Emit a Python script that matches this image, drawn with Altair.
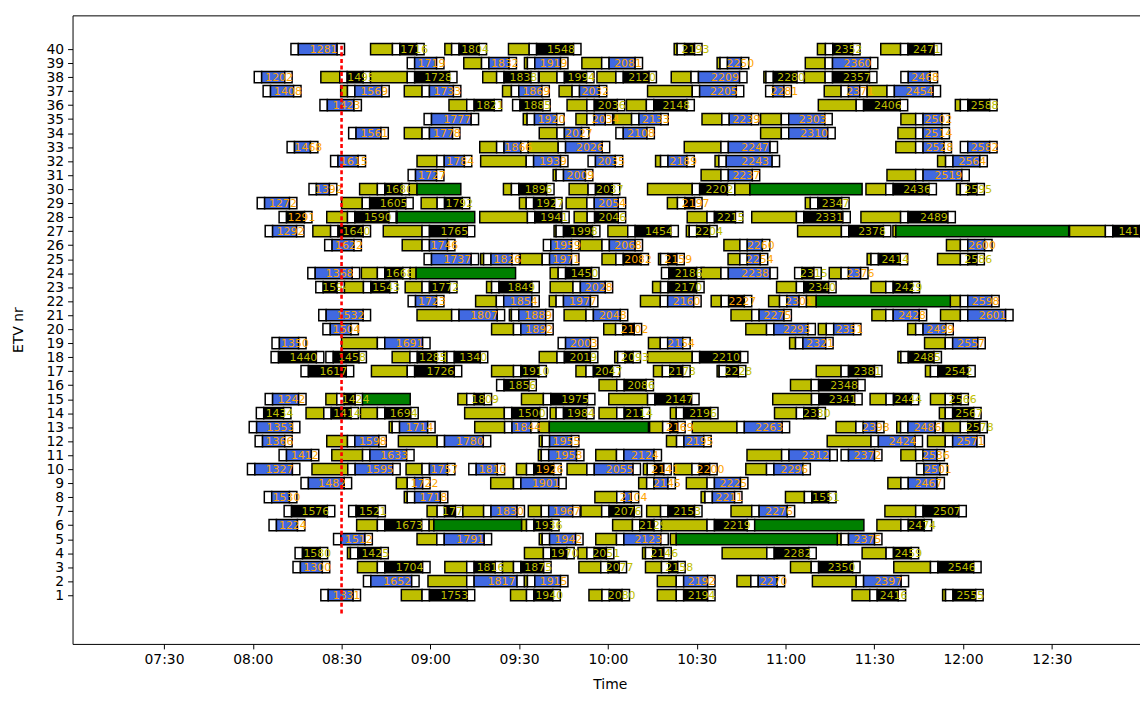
import altair as alt
import pandas as pd

# Times are minutes after midnight. Each block: (label, start, olive_minutes, end, kind)
# kind: 'b' = blue trip (orange label), 'k' = black trip (olive label), 'ko' = black trip (orange label)
row40 = [(1281,492.9,0,511.0,'b'),(1716,519.8,7.4,537.9,'k'),(1804,544.9,2.3,559.0,'k'),(1548,566.4,7.0,590.9,'k'),(2193,622.4,1.0,631.8,'k'),(2352,670.8,2.7,685.2,'k'),(2471,692.2,6.7,712.7,'k')]
row39 = [(1719,532.2,0,544.6,'b'),(1832,551.3,6.0,569.1,'b'),(1919,571.8,1.0,586.5,'b'),(2081,591.2,6.7,611.7,'b'),(2250,636.9,1.0,647.6,'b'),(2360,666.7,6.7,691.2,'b')]
row38 = [(1202,480.5,0,493.3,'b'),(1495,503.0,6.4,519.8,'k'),(1728,519.8,12.4,549.0,'k'),(1838,557.7,4.7,576.5,'k'),(1994,576.8,6.0,595.3,'k'),(2120,596.3,6.4,616.4,'k'),(2209,621.4,6.7,647.0,'b'),(2280,652.7,0.7,666.4,'k'),(2357,666.4,7.0,690.9,'k'),(2468,699.0,0,711.4,'b')]
row37 = [(1408,483.5,0,496.3,'b'),(1569,509.7,2.3,526.1,'b'),(1733,531.2,6.0,550.3,'b'),(1869,564.4,3.0,580.2,'b'),(2032,583.5,4.4,599.6,'b'),(2205,613.4,15.1,645.9,'b'),(2281,653.3,0,662.0,'b'),(2371,673.1,5.7,687.6,'b'),(2454,687.6,6.7,712.4,'b')]
row36 = [(1423,502.7,0,516.7,'b'),(1821,546.3,6.0,564.1,'k'),(1885,567.8,0,580.5,'k'),(2036,586.2,6.7,605.7,'k'),(2148,606.3,6.7,629.2,'k'),(2406,671.1,12.8,701.3,'k'),(2588,717.4,1.7,731.5,'k')]
row35 = [(1777,537.9,0,556.3,'b'),(1920,571.4,1.3,585.2,'b'),(2034,589.2,3.7,601.6,'b'),(2133,602.0,6.0,620.4,'b'),(2239,631.8,6.7,651.0,'b'),(2303,651.6,7.0,675.8,'b'),(2502,699.0,5.0,715.4,'b')]
row34 = [(1561,512.4,0,525.8,'b'),(1778,531.2,6.0,550.0,'b'),(2027,576.8,6.0,593.6,'b'),(2108,602.7,0,615.7,'b'),(2310,651.6,7.0,676.8,'b'),(2514,698.0,6.0,715.4,'b')]
row33 = [(1468,491.6,0,502.0,'b'),(1866,556.7,5.7,573.1,'b'),(2026,573.1,10.1,600.6,'b'),(2247,625.8,12.4,657.3,'b'),(2528,697.3,6.7,716.1,'b'),(2582,719.1,0,731.5,'b')]
row32 = [(1615,506.3,0,518.1,'b'),(1784,535.5,6.7,554.0,'b'),(1939,557.0,15.4,586.5,'b'),(2035,593.3,0,605.0,'b'),(2189,616.1,1.7,629.2,'b'),(2243,636.2,1.3,658.0,'b'),(2564,711.4,2.7,728.2,'b')]
row31 = [(1727,532.5,0,544.6,'b'),(2009,581.5,1.0,594.9,'b'),(2237,631.5,6.7,651.3,'b'),(2519,694.3,9.7,722.1,'b')]
row30 = [(1392,499.0,0,508.4,'b'),(1680,516.1,6.0,532.9,'k'),(1896,564.7,2.7,581.8,'k'),(2037,586.9,6.4,604.0,'k'),(2202,613.4,15.1,642.9,'k'),(2436,687.2,6.7,711.0,'k'),(2595,717.8,1.3,727.2,'k')]
row29 = [(1272,481.5,0,494.9,'b'),(1605,510.0,7.0,534.2,'k'),(1792,536.9,5.4,553.3,'k'),(1927,570.1,2.3,584.5,'k'),(2054,585.9,7.0,606.0,'b'),(2197,620.1,3.4,631.8,'ko'),(2347,666.7,1.7,681.5,'k')]
row28 = [(1291,488.9,0,500.0,'ko'),(1590,505.0,7.0,528.5,'k'),(1941,556.7,16.1,586.9,'k'),(2046,588.6,4.4,606.0,'k'),(2215,626.8,6.7,645.6,'k'),(2331,648.6,15.1,681.9,'k'),(2489,685.5,13.4,717.4,'k')]
row27 = [(1292,484.2,0,497.3,'b'),(1640,500.3,6.0,519.8,'k'),(1765,524.1,13.1,555.0,'k'),(1998,581.8,0.7,597.3,'k'),(1454,600.0,6.7,623.8,'k'),(2204,626.5,1.0,636.9,'k'),(2378,664.1,14.8,695.6,'k'),(1417,756.0,12.1,782.3,'k')]
row26 = [(1622,504.3,0,516.7,'b'),(1746,530.5,6.7,548.3,'b'),(1959,578.2,0,590.2,'b'),(2068,590.6,7.4,611.7,'b'),(2260,639.2,5.4,654.7,'b'),(2600,714.4,4.7,729.8,'b')]
row25 = [(1737,537.9,0,556.3,'b'),(1826,557.0,1.0,570.1,'b'),(1971,570.4,7.4,590.2,'b'),(2082,598.0,4.7,613.7,'ko'),(2159,617.1,0.7,625.8,'ko'),(2254,640.6,4.0,654.0,'b'),(2414,687.6,1.3,701.3,'k'),(2586,711.4,7.7,727.2,'k')]
row24 = [(1368,498.6,0,516.1,'b'),(1668,516.7,5.4,533.2,'k'),(1450,580.5,2.7,597.0,'k'),(2186,618.1,0,632.5,'k'),(2238,631.5,6.7,657.3,'b'),(2315,663.1,0,672.1,'k'),(2376,674.8,4.0,687.9,'b')]
row23 = [(1594,501.3,0,511.0,'k'),(1543,511.0,6.4,528.8,'k'),(1772,531.5,5.7,549.0,'k'),(1849,559.0,1.7,576.8,'k'),(2028,580.5,7.7,601.6,'b'),(2170,615.1,2.7,632.5,'k'),(2340,657.0,6.7,677.1,'k'),(2429,688.9,5.0,705.3,'k')]
row22 = [(1723,532.5,0,544.6,'b'),(1854,555.3,7.0,576.8,'b'),(1977,580.2,2.3,596.6,'b'),(2160,611.0,6.7,631.5,'b'),(2227,634.9,3.4,648.6,'ko'),(2301,654.3,3.7,667.1,'b'),(2598,715.7,3.4,732.2,'b')]
row21 = [(1532,502.3,0,519.8,'b'),(1807,535.5,11.7,565.1,'b'),(1889,566.7,0.7,581.5,'b'),(2048,585.2,7.4,606.7,'b'),(2275,641.6,7.0,662.0,'b'),(2428,689.2,4.7,707.7,'b'),(2601,712.4,6.7,736.9,'b')]
row20 = [(1504,503.7,0,515.7,'b'),(1892,560.7,7.4,581.5,'b'),(2102,598.6,4.0,611.4,'ko'),(2293,646.6,7.0,670.1,'b'),(2351,671.1,2.7,685.5,'b'),(2499,701.3,2.7,716.7,'b')]
row19 = [(1350,486.5,0,498.0,'b'),(1691,510.0,12.1,539.9,'b'),(2003,583.2,0,596.6,'b'),(2154,613.7,4.0,627.8,'b'),(2321,661.4,2.0,676.1,'b'),(2557,707.0,7.0,727.5,'b')]
row18 = [(1440,486.2,0,504.0,'k'),(1458,504.7,0,518.4,'k'),(1285,527.1,6.0,544.6,'k'),(1340,544.6,1.0,559.4,'k'),(2019,576.8,6.0,596.6,'k'),(2093,602.3,1.0,611.0,'k'),(2210,613.4,15.1,647.3,'k'),(2485,698.0,1.0,712.7,'k')]
row17 = [(1617,496.3,0,514.1,'k'),(1726,520.1,12.1,550.6,'k'),(1910,560.7,7.4,579.2,'k'),(2047,589.2,3.4,604.0,'k'),(2173,615.4,3.0,627.8,'k'),(2228,636.9,0.7,646.6,'k'),(2381,670.4,8.4,692.6,'k'),(2542,707.3,1.7,724.1,'k')]
row16 = [(1856,562.4,0,575.8,'k'),(2086,597.0,6.0,615.4,'k'),(2348,661.7,7.0,686.9,'k')]
row15 = [(1242,484.2,0,498.0,'b'),(1424,504.7,3.7,517.1,'k'),(1809,549.3,3.0,560.7,'k'),(1975,570.8,7.4,595.6,'k'),(2147,600.3,13.1,630.8,'k'),(2341,655.7,13.1,685.9,'k'),(2444,688.6,5.4,705.0,'k'),(2566,709.0,5.0,721.8,'k')]
row14 = [(1434,481.2,0,492.9,'k'),(1414,498.0,6.0,515.7,'k'),(1694,516.4,5.7,535.9,'k'),(1500,551.6,13.4,579.5,'k'),(1984,580.5,2.0,595.3,'k'),(2114,597.0,6.0,614.1,'k'),(2196,621.1,2.0,637.2,'k'),(2330,656.3,7.4,673.5,'k'),(2567,712.0,2.0,726.1,'k')]
row13 = [(1353,478.8,0,495.9,'b'),(1714,526.1,1.0,541.6,'b'),(1844,555.0,10.1,576.5,'b'),(2169,614.1,4.4,626.1,'ko'),(2263,628.5,15.1,661.4,'b'),(2398,677.1,6.7,693.3,'b'),(2486,697.6,1.3,713.1,'b'),(2578,713.4,5.7,728.2,'k')]
row12 = [(1366,480.8,0,493.3,'b'),(1598,505.0,7.0,525.1,'b'),(1780,529.2,13.1,560.4,'b'),(1955,576.8,1.0,590.2,'b'),(2195,619.8,3.4,634.9,'b'),(2424,674.1,14.8,706.3,'b'),(2571,708.0,6.0,727.2,'b')]
row11 = [(1412,488.9,0,502.3,'b'),(1633,506.7,10.4,534.5,'b'),(1958,576.5,1.0,591.9,'b'),(2124,595.9,7.0,618.1,'b'),(2312,647.0,11.7,677.5,'b'),(2372,678.8,0,692.6,'b'),(2536,699.0,5.0,713.7,'b')]
row10 = [(1327,478.2,0,495.9,'b'),(1595,500.0,12.1,529.8,'b'),(1757,531.8,5.4,548.3,'b'),(1810,553.0,0,565.1,'b'),(1926,569.1,3.4,584.2,'ko'),(2055,586.2,6.7,611.0,'b'),(2141,612.0,1.3,621.4,'ko'),(2200,622.4,6.0,636.9,'ko'),(2296,646.6,7.0,668.4,'b'),(2501,704.3,0,714.7,'b')]
row9 = [(1482,496.3,0,513.4,'b'),(1722,528.5,3.7,539.9,'b'),(1901,560.4,7.7,585.9,'b'),(2145,610.4,2.7,622.8,'b'),(2225,626.5,7.0,647.3,'b'),(2467,694.6,4.4,713.7,'b')]
row8 = [(1530,483.9,0,494.9,'b'),(1718,531.2,1.0,545.9,'b'),(2104,595.6,7.4,610.4,'b'),(2211,631.5,1.3,645.3,'b'),(1551,660.0,6.4,677.1,'k')]
row7 = [(1576,490.6,0,507.7,'k'),(1521,512.4,0,524.8,'k'),(1776,538.9,3.4,551.0,'k'),(1830,551.0,7.0,571.8,'b'),(1967,573.1,4.4,590.6,'b'),(2076,590.9,7.0,611.4,'k'),(2153,613.1,4.7,631.8,'k'),(2276,641.6,7.0,663.1,'b'),(2507,693.6,10.4,721.1,'k')]
row6 = [(1224,485.5,0,497.6,'b'),(1673,515.1,7.0,539.6,'k'),(1936,570.8,1.7,583.5,'k'),(2129,601.6,6.7,618.1,'k'),(2219,618.1,15.4,649.6,'k'),(2474,690.9,8.1,709.4,'k')]
row5 = [(1512,507.3,0,520.4,'b'),(1791,535.5,6.7,560.7,'b'),(1942,576.8,1.0,591.6,'b'),(2123,595.9,7.0,620.4,'b'),(2375,677.5,1.3,692.6,'b')]
row4 = [(1580,494.3,0,505.3,'k'),(1425,512.0,1.0,525.8,'k'),(1970,571.8,6.4,588.6,'k'),(2051,589.9,3.0,602.0,'k'),(2146,611.7,1.0,621.4,'k'),(2282,638.6,15.1,670.4,'k'),(2459,685.9,8.1,705.0,'k')]
row3 = [(1300,493.6,0,506.0,'b'),(1704,515.4,6.7,539.9,'k'),(1816,544.9,7.4,564.4,'k'),(1875,564.4,3.7,580.8,'k'),(2077,590.2,7.4,606.3,'k'),(2158,612.7,5.4,626.1,'k'),(2350,661.7,7.0,685.2,'k'),(2546,696.6,12.4,726.1,'k')]
row2 = [(1652,517.4,0,536.2,'b'),(1817,539.2,13.1,571.8,'b'),(1915,571.8,1.0,586.5,'b'),(2192,616.7,6.4,636.2,'b'),(2270,643.6,4.7,659.7,'b'),(2397,669.1,14.8,701.6,'b')]
row1 = [(1331,503.0,0,516.4,'b'),(1753,530.2,7.0,555.0,'k'),(1940,567.1,5.4,583.9,'k'),(2080,593.6,4.4,607.3,'k'),(2194,616.7,6.4,636.2,'k'),(2416,682.5,6.0,700.6,'k'),(2555,713.1,1.0,726.8,'k')]

# Long green waits: (row, olive_start, green_start, green_end)
green_waits = [(30,532.9,535.5,550.3),(30,642.9,648.0,685.9),(28,528.5,528.8,555.0),(27,696.3,697.3,755.7),
               (24,533.2,535.2,568.8),(22,667.1,670.4,715.7),(15,517.1,517.1,533.2),(13,576.8,580.2,613.7),
               (6,539.6,541.2,570.8),(6,649.6,649.6,686.5),(5,621.1,623.1,677.5)]

marker_time = 510          # 08:30 red dotted marker
marker_span = (-0.3, 40.4)
x_ticks = [450, 480, 510, 540, 570, 600, 630, 660, 690, 720, 750]
y_ticks = list(range(1, 41))

all_rows = [row1,row2,row3,row4,row5,row6,row7,row8,row9,row10,row11,row12,row13,row14,row15,row16,row17,row18,row19,row20,
            row21,row22,row23,row24,row25,row26,row27,row28,row29,row30,row31,row32,row33,row34,row35,row36,row37,row38,row39,row40]

OLIVE, WHITE, BLUE, BLACK, GREEN, ORANGE = '#bfbf00', '#ffffff', '#4169e1', '#000000', '#008000', '#ffa500'
W = 2.5
H = 0.4

segs, labs = [], []
for i, blocks in enumerate(all_rows):
    r = i + 1
    for lab, s, ol, e, kind in blocks:
        a = s + ol
        if ol > 0:
            segs.append((r, s, a, OLIVE))
        segs.append((r, a, a + W, WHITE))
        c1 = a + W
        c2 = max(e - W, c1)
        if c2 > c1:
            segs.append((r, c1, c2, BLUE if kind == 'b' else BLACK))
        segs.append((r, c2, max(e, c2 + 0.5), WHITE))
        labs.append((r, (a + e) / 2 + 2, str(lab), ORANGE if kind in ('b', 'ko') else OLIVE))
for r, os_, gs, ge in green_waits:
    if gs > os_:
        segs.append((r, os_, gs, OLIVE))
    segs.append((r, gs, ge, GREEN))

seg_df = pd.DataFrame(segs, columns=['row', 'x', 'x2', 'fill'])
seg_df['y0'] = seg_df['row'] - H
seg_df['y1'] = seg_df['row'] + H
lab_df = pd.DataFrame(labs, columns=['row', 'lx', 'label', 'col'])
mark_df = pd.DataFrame({'t': [marker_time], 'y0': [marker_span[0]], 'y1': [marker_span[1]]})

xscale = alt.Scale(domain=[419.1, 779.8], nice=False, zero=False)
yscale = alt.Scale(domain=[-2.48, 42.41], nice=False, zero=False)

label_expr = ("(floor(datum.value/60) < 10 ? '0' : '') + floor(datum.value/60) + ':' + "
              "(datum.value % 60 < 10 ? '0' : '') + (datum.value % 60)")

y_axis = alt.Axis(values=y_ticks, format='d', title='ETV nr', titleX=-50, titleBaseline='alphabetic')

bars = alt.Chart(seg_df).mark_rect(stroke='black', strokeWidth=1.5, clip=True).encode(
    x=alt.X('x:Q', scale=xscale, axis=alt.Axis(values=x_ticks, labelExpr=label_expr, title='Time',
                                                 titleY=45, titleX=541, titleBaseline='alphabetic')),
    x2='x2:Q',
    y=alt.Y('y0:Q', scale=yscale, axis=y_axis, title='ETV nr'),
    y2='y1:Q',
    fill=alt.Fill('fill:N', scale=None),
)

texts = alt.Chart(lab_df).mark_text(fontSize=11, font='DejaVu Sans', clip=True, dy=1,
                                    align='center', baseline='middle').encode(
    x=alt.X('lx:Q', scale=xscale, axis=None),
    y=alt.Y('row:Q', scale=yscale, axis=y_axis, title='ETV nr'),
    text='label:N',
    color=alt.Color('col:N', scale=None),
)

marker = alt.Chart(mark_df).mark_rule(color='red', strokeWidth=2.6, strokeDash=[4, 2.6]).encode(
    x=alt.X('t:Q', scale=xscale, axis=alt.Axis(orient='top', labels=False, ticks=False, title=None)),
    y=alt.Y('y0:Q', scale=yscale, axis=y_axis, title='ETV nr'),
    y2='y1:Q',
)

chart = alt.layer(bars, texts, marker).resolve_axis(x='independent').properties(
    width=1075, height=633,
    padding={'left': 65, 'top': 5, 'right': 0, 'bottom': 46},
    autosize=alt.AutoSizeParams(type='none'),
).configure_view(stroke=None).configure_axis(
    labelFont='DejaVu Sans', labelFontSize=14, labelColor='black',
    titleFont='DejaVu Sans', titleFontSize=14, titleFontWeight='normal', titleColor='black',
    domainColor='black', domainWidth=1, tickColor='black', tickSize=5, tickWidth=1,
    labelPadding=4, grid=False, labelOverlap=False, labelFlush=False,
)

chart.save('out.html', embed_options={'renderer': 'svg', 'actions': False})
